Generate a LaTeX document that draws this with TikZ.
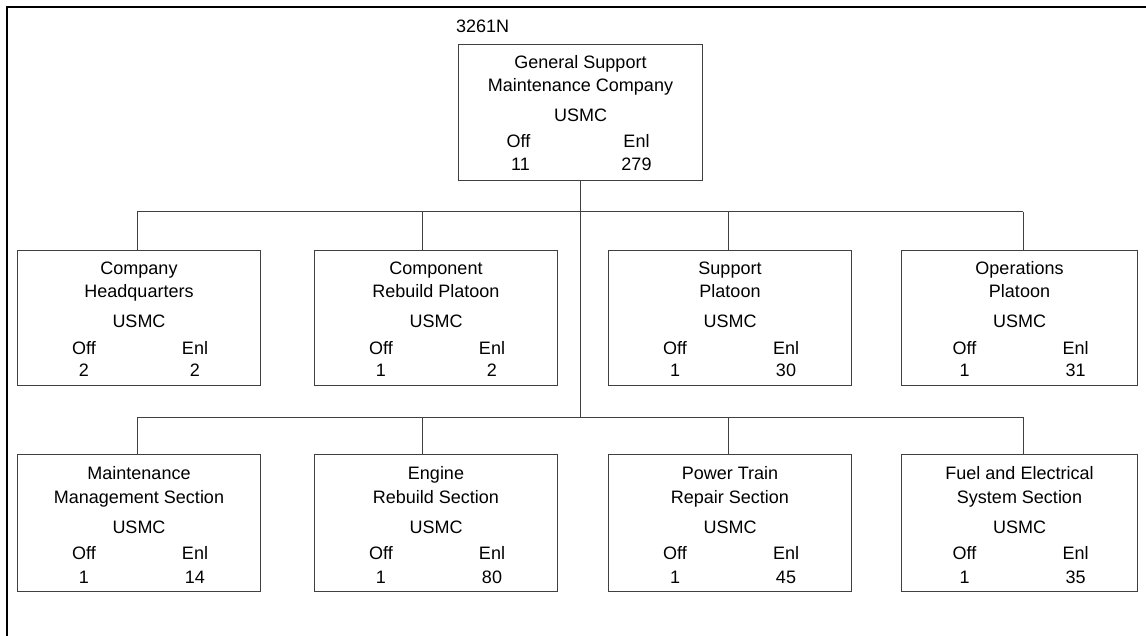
\documentclass[tikz,border=0pt]{standalone}
\usepackage{fontspec}
\setmainfont{Liberation Sans}
\usetikzlibrary{positioning,calc}

\begin{document}
\begin{tikzpicture}[x=1pt, y=-1pt,
  unitbox/.style={draw=black!75, line width=1pt, inner sep=0pt, anchor=north west},
  boxtext/.style={anchor=base, inner sep=0pt, font=\fontsize{18}{21}\selectfont},
  link/.style={draw=black!75, line width=1pt}]
  \useasboundingbox (0,0) rectangle (1146,636);
  % Page frame (top and left edges only)
  \draw[line width=2.6pt] (7,636) -- (7,7) -- (1146,7);

  % Company
  \node[unitbox, minimum width=244pt, minimum height=136pt] (gsm) at (458,44) {};
  \node[boxtext, anchor=base west] (code) at (456,33) {3261N};
  \node[boxtext] (gsma) at ($(gsm.north)+(0,25)$) {General Support};
  \node[boxtext] (gsmb) at ($(gsm.north)+(0,48)$) {Maintenance Company};
  \node[boxtext] (gsmu) at ($(gsm.north)+(0,78)$) {USMC};
  \node[boxtext] (gsmo) at ($(gsm.north)+(-62,104)$) {Off};
  \node[boxtext] (gsme) at ($(gsm.north)+(56,104)$) {Enl};
  \node[boxtext] (gsmon) at ($(gsm.north)+(-60,127)$) {11};
  \node[boxtext] (gsmen) at ($(gsm.north)+(56,127)$) {279};

  % Platoons
  \foreach \n/\lx/\w/\a/\b/\o/\e in {ha/17/243/Company/Headquarters/2/2,
      cr/314/243/Component/Rebuild Platoon/1/2,
      sp/608/243/Support/Platoon/1/30,
      op/901/236/Operations/Platoon/1/31} {
    \node[unitbox, minimum width=\w pt, minimum height=135pt] (\n) at (\lx,250) {};
    \node[boxtext] at ($(\n.north)+(0,25)$) {\a};
    \node[boxtext] at ($(\n.north)+(0,48)$) {\b};
    \node[boxtext] at ($(\n.north)+(0,78)$) {USMC};
    \node[boxtext] at ($(\n.north)+(-55,104)$) {Off};
    \node[boxtext] at ($(\n.north)+(56,104)$) {Enl};
    \node[boxtext] at ($(\n.north)+(-55,127)$) {\o};
    \node[boxtext] at ($(\n.north)+(56,127)$) {\e};
  }

  % Sections
  \foreach \n/\lx/\w/\a/\b/\o/\e in {mm/17/243/Maintenance/Management Section/1/14,
      er/314/243/Engine/Rebuild Section/1/80,
      pt/608/243/Power Train/Repair Section/1/45,
      fe/901/236/Fuel and Electrical/System Section/1/35} {
    \node[unitbox, minimum width=\w pt, minimum height=137pt] (\n) at (\lx,454) {};
    \node[boxtext] at ($(\n.north)+(0,25)$) {\a};
    \node[boxtext] at ($(\n.north)+(0,49)$) {\b};
    \node[boxtext] at ($(\n.north)+(0,79)$) {USMC};
    \node[boxtext] at ($(\n.north)+(-55,105)$) {Off};
    \node[boxtext] at ($(\n.north)+(56,105)$) {Enl};
    \node[boxtext] at ($(\n.north)+(-55,129)$) {\o};
    \node[boxtext] at ($(\n.north)+(56,129)$) {\e};
  }

  % Connectors
  \coordinate (trunk) at (gsm.south |- 0,417);
  \draw[link] (gsm.south) -- (trunk);
  \foreach \n/\dx in {ha/137, cr/422, sp/728, op/1023}
    \coordinate (j\n) at (\dx,212);
  \foreach \n/\dx in {mm/137, er/422, pt/728, fe/1023}
    \coordinate (j\n) at (\dx,417);
  \draw[link] (jha) -- (jop);
  \draw[link] (jmm) -- (jfe);
  \foreach \n in {ha, cr, sp, op, mm, er, pt, fe}
    \draw[link] (j\n) -- (j\n |- \n.north);
\end{tikzpicture}
\end{document}
